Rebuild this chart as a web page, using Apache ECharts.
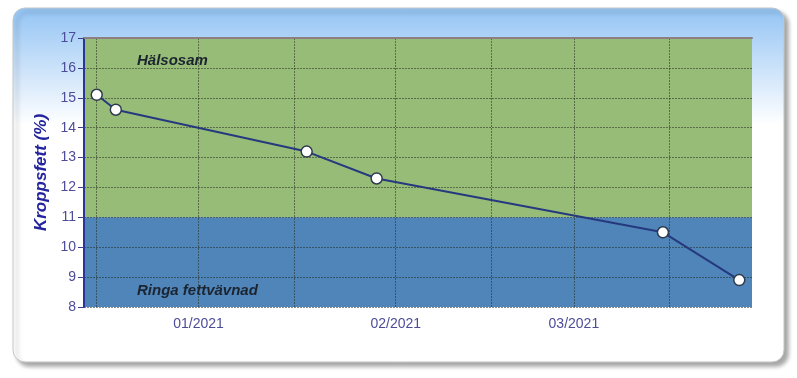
<!DOCTYPE html>
<html>
<head>
<meta charset="utf-8">
<script src="https://cdn.jsdelivr.net/npm/echarts@6/dist/echarts.min.js"></script>
<style>html,body{margin:0;padding:0;background:#fff;}#c{width:797px;height:378px;}</style>
</head>
<body>
<div id="c"></div>
<script>
// ---- data ----
const dates = ['2020-12-16', '2020-12-19', '2021-01-18', '2021-01-29', '2021-03-15', '2021-03-27'];
const bodyFat = [15.1, 14.6, 13.2, 12.3, 10.5, 8.9];
const monthLabels = ['2021-01-01', '2021-02-01', '2021-03-01'];
const gridDates = ['2020-12-16', '2021-01-01', '2021-01-16', '2021-02-01', '2021-02-16', '2021-03-01', '2021-03-16'];
const axisMinDate = '2020-12-14';
const axisMaxDate = '2021-03-29';
const yMin = 8, yMax = 17, yStep = 1;
const threshold = 11;
const zoneNames = ['Hälsosam', 'Ringa fettvävnad'];
const yTitle = 'Kroppsfett (%)';

const ts = s => { const p = s.split('-').map(Number); return new Date(p[0], p[1] - 1, p[2]).getTime(); };

const chart = echarts.init(document.getElementById('c'), null, {renderer: 'canvas'});
const gridLine = {show: true, lineStyle: {color: 'rgba(35,45,35,0.55)', width: 1, type: [2, 1]}};

chart.setOption({
  animation: false,
  graphic: [{
    type: 'rect', z: -10, silent: true,
    shape: {x: 13, y: 8, width: 771, height: 354, r: 12},
    style: {
      fill: new echarts.graphic.LinearGradient(0, 0, 0, 1, [
        {offset: 0, color: '#93c4f4'}, {offset: 0.33, color: '#ffffff'}, {offset: 1, color: '#ffffff'}
      ]),
      stroke: '#c4c4c4', lineWidth: 1,
      shadowColor: 'rgba(0,0,0,0.35)', shadowBlur: 4, shadowOffsetX: 4, shadowOffsetY: 4
    }
  }],
  grid: {left: 84, right: 45, top: 38, bottom: 71, containLabel: false},
  xAxis: [{
    type: 'value', min: ts(axisMinDate), max: ts(axisMaxDate), z: 2,
    axisLine: {show: false},
    axisTick: {show: false, customValues: gridDates.map(ts)},
    splitLine: gridLine,
    axisLabel: {
      customValues: monthLabels.map(ts), margin: 10,
      color: '#4d4c98', fontSize: 14, fontFamily: 'Liberation Sans, Arial, sans-serif',
      formatter: v => { const d = new Date(v); return String(d.getMonth() + 1).padStart(2, '0') + '/' + d.getFullYear(); }
    }
  }, {
    type: 'value', position: 'top', min: ts(axisMinDate), max: ts(axisMaxDate), z: 2,
    axisLine: {show: true, lineStyle: {color: '#8c7f82', width: 2}},
    axisTick: {show: false}, axisLabel: {show: false}, splitLine: {show: false}
  }],
  yAxis: {
    type: 'value', min: yMin, max: yMax, interval: yStep, z: 2,
    name: yTitle, nameLocation: 'middle', nameGap: 31, nameRotate: 90,
    nameTextStyle: {color: '#24249e', fontSize: 17, fontWeight: 'bold', fontStyle: 'italic', fontFamily: 'Liberation Sans, Arial, sans-serif'},
    axisLine: {show: true, lineStyle: {color: '#2b3596', width: 2}},
    axisTick: {show: true, length: 6, lineStyle: {color: '#3c3f8f', width: 1}},
    axisLabel: {margin: 8, color: '#4d4c98', fontSize: 14, fontFamily: 'Liberation Sans, Arial, sans-serif'},
    splitLine: gridLine
  },
  series: [{
    type: 'line', z: 1, data: [], silent: true,
    markArea: {
      silent: true,
      data: [
        [{yAxis: threshold, itemStyle: {color: '#97bc77'},
          label: {show: true, formatter: zoneNames[0], position: [53, 23]}},
         {yAxis: yMax}],
        [{yAxis: yMin, itemStyle: {color: '#4f85b8'},
          label: {show: true, formatter: zoneNames[1], position: [53, 74]}},
         {yAxis: threshold}]
      ],
      label: {align: 'left', verticalAlign: 'middle', color: '#1c2430', fontSize: 15, fontWeight: 'bold', fontStyle: 'italic', fontFamily: 'Liberation Sans, Arial, sans-serif'}
    }
  }, {
    type: 'line', z: 3,
    data: dates.map((d, i) => [ts(d), bodyFat[i]]),
    symbol: 'circle', symbolSize: 11,
    lineStyle: {color: '#26397f', width: 2},
    itemStyle: {color: '#ffffff', borderColor: '#2d3b4d', borderWidth: 1.5}
  }]
});
</script>
</body>
</html>
